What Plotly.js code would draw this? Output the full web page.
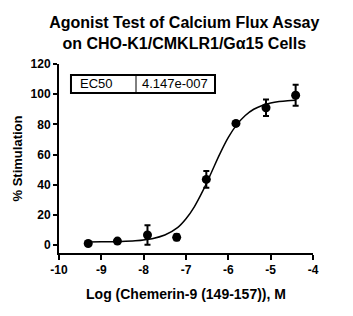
<!DOCTYPE html>
<html>
<head>
<meta charset="utf-8">
<script src="https://cdn.plot.ly/plotly-3.0.1.min.js"></script>
<style>html,body{margin:0;padding:0;background:#fff;}#chart{width:353px;height:316px;}</style>
</head>
<body>
<div id="chart"></div>
<script>
// Measured points
var logConc = [-9.31, -8.62, -7.91, -7.22, -6.52, -5.82, -5.11, -4.41];
var stimulation = [1.0, 2.6, 6.6, 5.1, 43.5, 80.6, 91.0, 99.3];
var stimError = [0.8, 0.8, 6.5, 2.0, 5.5, 1.0, 5.5, 7.0];

// Fitted curve
var curveX = [-9.31, -9.0, -8.6, -8.2, -7.8, -7.5, -7.2, -7.0, -6.8, -6.6, -6.4, -6.2, -6.0, -5.8, -5.6, -5.4, -5.2, -5.0, -4.8, -4.6, -4.41];
var curveY = [2.0, 2.1, 2.3, 2.8, 4.2, 6.6, 11.5, 17.4, 25.5, 36.0, 48.1, 60.4, 71.3, 79.8, 85.9, 90.0, 92.5, 94.1, 95.1, 95.7, 96.0];

var xTicks = [-10, -9, -8, -7, -6, -5, -4];
var yTicks = [0, 20, 40, 60, 80, 100, 120];
var tableLabel = "EC50";
var tableValue = "4.147e-007";

var titleText = "Agonist Test of Calcium Flux Assay<br>on CHO-K1/CMKLR1/Gα15 Cells";
var xTitle = "Log (Chemerin-9 (149-157)), M";
var yTitle = "% Stimulation";

var font = "Liberation Sans, Arial, sans-serif";

var traces = [
  {x: curveX, y: curveY, mode: "lines", type: "scatter",
   line: {color: "#000", width: 1.5, shape: "spline"}, hoverinfo: "skip", showlegend: false},
  {x: logConc, y: stimulation, mode: "markers", type: "scatter",
   marker: {color: "#000", size: 9, symbol: "circle"},
   error_y: {type: "data", array: stimError, visible: true, color: "#000", thickness: 2, width: 3},
   showlegend: false}
];

var layout = {
  width: 353, height: 316,
  margin: {l: 59, r: 40, t: 64, b: 63},
  paper_bgcolor: "#fff", plot_bgcolor: "#fff",
  font: {family: font, color: "#000"},
  title: {text: titleText, font: {family: font, size: 16, color: "#000", weight: "bold"},
          x: 0.522, xanchor: "center", xref: "container", yref: "container", y: 0.912, yanchor: "middle",
          automargin: false},
  xaxis: {
    range: [-10, -4], tickvals: xTicks, ticktext: xTicks.map(String),
    showgrid: false, zeroline: false, showline: true, linecolor: "#000", linewidth: 2,
    ticks: "outside", ticklen: 5, tickwidth: 2, tickcolor: "#000",
    tickfont: {family: font, size: 12, color: "#000", weight: "bold"},
    title: {text: xTitle, font: {family: font, size: 14, color: "#000", weight: "bold"}, standoff: 13},
    fixedrange: true
  },
  yaxis: {
    range: [-5.3, 120], tickvals: yTicks, ticktext: yTicks.map(String),
    showgrid: false, zeroline: false, showline: true, linecolor: "#000", linewidth: 2,
    ticks: "outside", ticklen: 4, tickwidth: 2, tickcolor: "#000",
    tickfont: {family: font, size: 12, color: "#000", weight: "bold"},
    title: {text: yTitle, font: {family: font, size: 13, color: "#000", weight: "bold"}, standoff: 5},
    fixedrange: true
  },
  shapes: [
    {type: "rect", xref: "x", yref: "y", x0: -9.717, x1: -6.315, y0: 100.8, y1: 112.7,
     line: {color: "#000", width: 2}, fillcolor: "rgba(0,0,0,0)"},
    {type: "line", xref: "x", yref: "y", x0: -8.181, x1: -8.181, y0: 100.8, y1: 112.7,
     line: {color: "#000", width: 1}}
  ],
  annotations: [
    {xref: "x", yref: "y", x: -9.55, y: 106.8, xanchor: "left", yanchor: "middle",
     text: tableLabel, showarrow: false, font: {family: font, size: 13, color: "#000"}},
    {xref: "x", yref: "y", x: -8.08, y: 106.8, xanchor: "left", yanchor: "middle",
     text: tableValue, showarrow: false, font: {family: font, size: 13, color: "#000"}}
  ]
};

Plotly.newPlot("chart", traces, layout, {displayModeBar: false, staticPlot: true});
</script>
</body>
</html>
